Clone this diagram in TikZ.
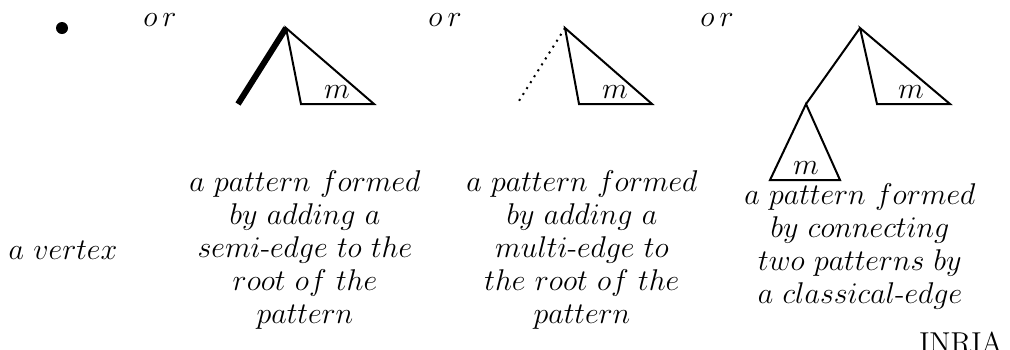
\documentclass[tikz,border=0pt]{standalone}
\newcommand{\hy}{\mbox{-}}
\begin{document}
\begin{tikzpicture}[x=0.4pt,y=-0.4pt,
    lbl/.style={align=center,font=\fontsize{11.5}{13.2}\selectfont},
    tri/.style={thick,line join=miter}]
    \useasboundingbox (0,0) rectangle (1010,349);

    % vertex
    \fill (62,28) circle (6);
    \node[lbl] (vtx) at (63,250) {$a\ vertex$};

    % ``or'' labels
    \node[lbl] (or1) at (160,20) {$o\,r$};
    \node[lbl] (or2) at (445,20) {$o\,r$};
    \node[lbl] (or3) at (717,20) {$o\,r$};

    % semi-edge
    \draw[tri] (286,28) -- (301,104) -- (374,104) -- cycle;
    \draw[line width=2.4pt] (286,28) -- (238,104);
    \node[lbl] (m1) at (337,92) {$m$};
    \node[lbl] (txt1) at (305,250) {$a\ pattern\ formed$\\$by\ adding\ a$\\%
        $semi\hy edge\ to\ the$\\$root\ of\ the$\\$pattern$};

    % multi-edge
    \draw[tri] (565,28) -- (579,104) -- (652,104) -- cycle;
    \draw[dotted,thick] (565,28) -- (517,104);
    \node[lbl] (m2) at (615,92) {$m$};
    \node[lbl] (txt2) at (582,250) {$a\ pattern\ formed$\\$by\ adding\ a$\\%
        $multi\hy edge\ to$\\$the\ root\ of\ the$\\$pattern$};

    % classical-edge
    \draw[tri] (860,28) -- (877,104) -- (950,104) -- cycle;
    \draw[thick] (860,28) -- (806,104);
    \draw[tri] (806,104) -- (770,180) -- (840,180) -- cycle;
    \node[lbl] (m3) at (911,92) {$m$};
    \node[lbl] (m4) at (806,168) {$m$};
    \node[lbl] (txt3) at (860,246) {$a\ pattern\ formed$\\$by\ connecting$\\%
        $two\ patterns\ by$\\$a\ classical\hy edge$};

    \node[lbl,anchor=base east,inner sep=0pt] (inria) at (1003,352) {INRIA};
\end{tikzpicture}
\end{document}
